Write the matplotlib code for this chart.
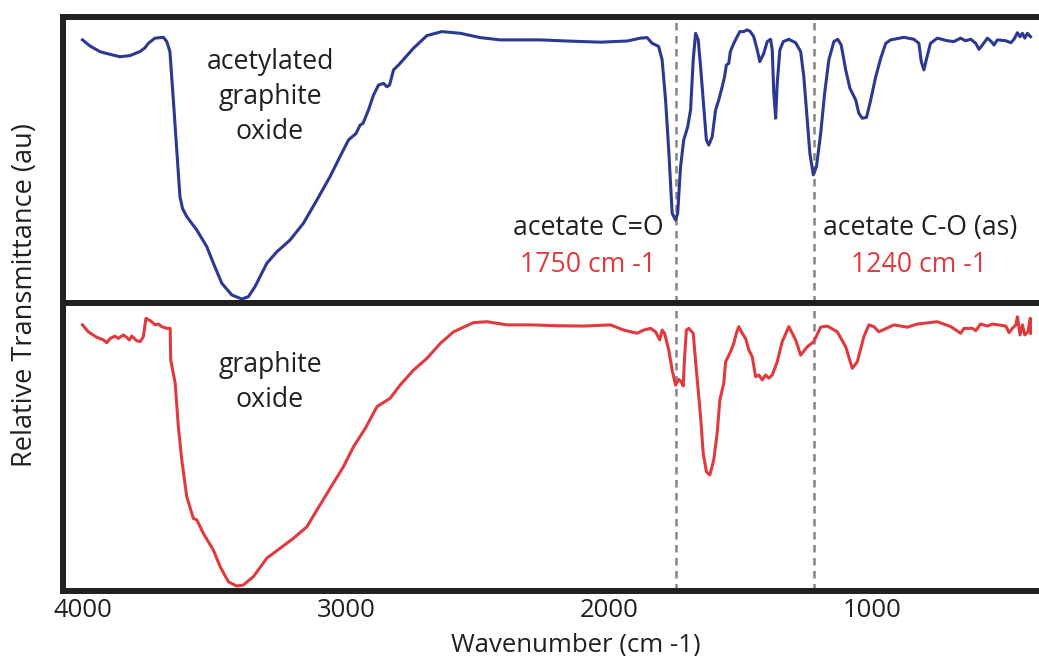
import matplotlib
matplotlib.use("Agg")
import matplotlib.pyplot as plt
import numpy as np

wn_acetylated = [4000, 3972, 3934, 3915, 3858, 3820, 3782, 3763, 3750, 3725, 3693, 3680,
                 3668, 3655, 3642, 3630, 3620, 3604, 3566, 3528, 3503, 3471, 3433, 3395,
                 3370, 3345, 3300, 3262, 3212, 3161, 3110, 3060, 3022, 2990, 2961, 2946,
                 2935, 2914, 2895, 2876, 2857, 2844, 2834, 2819, 2800, 2743, 2692, 2635,
                 2565, 2490, 2414, 2262, 2160, 2033, 1932, 1882, 1856, 1837, 1818, 1812,
                 1799, 1786, 1774, 1761, 1748, 1740, 1729, 1717, 1702, 1691, 1681, 1672,
                 1662, 1653, 1640, 1631, 1622, 1609, 1596, 1584, 1571, 1562, 1555, 1546,
                 1540, 1527, 1514, 1504, 1489, 1476, 1464, 1451, 1438, 1428, 1413, 1400,
                 1387, 1381, 1375, 1368, 1362, 1352, 1339, 1318, 1292, 1273, 1261, 1251,
                 1238, 1225, 1213, 1197, 1182, 1166, 1147, 1132, 1119, 1102, 1086, 1064,
                 1052, 1039, 1023, 1007, 988, 969, 950, 931, 881, 843, 824, 815,
                 805, 796, 780, 754, 716, 691, 666, 647, 627, 608, 596, 583,
                 564, 549, 539, 526, 494, 475, 463, 450, 440, 431, 422, 412,
                 400]
t_acetylated = [92.0, 89.9, 87.9, 87.4, 86.1, 86.5, 87.9, 89.2, 90.8, 92.6, 92.9, 91.4,
                87.9, 71.0, 53.5, 37.2, 33.0, 30.2, 25.5, 19.7, 13.9, 6.9, 2.8, 1.4,
                2.2, 5.7, 13.9, 17.9, 22.0, 27.9, 36.0, 44.2, 51.2, 57.0, 59.3, 62.2,
                62.8, 67.5, 72.7, 76.2, 76.8, 75.6, 76.2, 81.5, 83.2, 89.1, 93.5, 94.9,
                94.3, 92.8, 92.0, 92.0, 91.6, 91.2, 91.6, 92.6, 92.8, 90.8, 90.0, 89.6,
                85.0, 71.0, 53.5, 31.4, 29.0, 31.4, 47.7, 57.0, 61.6, 67.5, 85.0, 94.3,
                92.0, 82.6, 67.5, 57.0, 55.2, 58.1, 67.5, 71.0, 75.6, 79.1, 83.2, 83.8,
                87.9, 90.8, 93.1, 94.9, 94.9, 95.5, 94.9, 93.1, 88.5, 84.4, 87.3, 91.4,
                92.2, 88.5, 73.3, 64.6, 76.8, 88.5, 91.4, 92.2, 91.0, 87.9, 79.1, 67.5,
                52.3, 44.8, 47.7, 59.3, 73.3, 85.0, 91.4, 92.2, 90.2, 81.5, 75.1, 71.0,
                66.3, 64.6, 64.9, 71.0, 79.1, 85.6, 90.8, 92.0, 92.9, 92.2, 90.8, 84.4,
                81.5, 85.0, 90.8, 92.6, 91.7, 91.4, 92.6, 91.7, 92.2, 90.8, 88.7, 90.2,
                92.6, 91.4, 90.2, 92.0, 91.7, 91.0, 92.2, 94.5, 93.1, 94.3, 92.6, 94.3,
                93.1]

wn_go = [4000, 3978, 3946, 3921, 3908, 3895, 3876, 3864, 3845, 3832, 3822, 3813,
         3794, 3781, 3769, 3759, 3743, 3724, 3712, 3699, 3680, 3667, 3665, 3648,
         3636, 3623, 3604, 3579, 3566, 3541, 3503, 3477, 3446, 3414, 3389, 3351,
         3300, 3250, 3199, 3148, 3110, 3059, 3009, 2971, 2926, 2882, 2832, 2794,
         2743, 2692, 2641, 2591, 2515, 2464, 2388, 2293, 2198, 2097, 1995, 1945,
         1894, 1869, 1843, 1824, 1808, 1799, 1790, 1774, 1761, 1748, 1736, 1727,
         1719, 1714, 1707, 1698, 1681, 1669, 1653, 1643, 1631, 1618, 1603, 1590,
         1580, 1565, 1558, 1539, 1527, 1517, 1508, 1495, 1482, 1470, 1457, 1444,
         1432, 1419, 1406, 1394, 1381, 1362, 1343, 1318, 1292, 1273, 1248, 1223,
         1197, 1172, 1134, 1102, 1077, 1058, 1033, 1014, 995, 976, 919, 868,
         830, 754, 703, 665, 653, 621, 608, 590, 564, 545, 494, 482,
         469, 456, 450, 440, 431, 422, 410, 401, 400]
t_go = [92.4, 90.0, 88.1, 87.2, 86.2, 87.7, 88.5, 87.7, 88.9, 88.1, 87.2, 88.5,
        86.9, 86.6, 88.3, 94.7, 93.9, 92.4, 92.7, 91.8, 91.2, 91.2, 80.2, 72.1,
        57.0, 45.5, 32.7, 25.2, 24.7, 20.0, 14.2, 8.4, 3.2, 1.7, 2.1, 5.0,
        11.4, 14.8, 18.3, 22.3, 28.1, 35.7, 43.2, 50.1, 56.5, 64.0, 66.9, 71.5,
        76.7, 80.8, 86.0, 90.0, 93.2, 93.5, 92.4, 92.4, 92.1, 92.0, 92.4, 90.6,
        89.5, 90.6, 91.2, 90.0, 87.2, 90.6, 89.5, 83.7, 76.7, 71.5, 73.5, 72.7,
        71.2, 80.8, 90.6, 91.2, 89.5, 76.7, 60.5, 47.8, 41.4, 40.3, 45.5, 54.8,
        66.3, 72.1, 79.6, 83.1, 86.0, 89.5, 91.8, 89.5, 87.7, 83.7, 81.4, 74.4,
        75.0, 73.3, 75.0, 73.9, 75.0, 79.6, 86.6, 91.8, 87.2, 81.9, 84.8, 86.6,
        91.6, 92.0, 90.0, 84.8, 77.3, 79.6, 88.3, 92.4, 91.8, 90.0, 92.4, 91.6,
        92.7, 93.5, 91.8, 89.5, 91.2, 91.2, 90.4, 92.7, 92.0, 92.7, 92.0, 89.7,
        91.2, 92.4, 95.2, 88.9, 92.4, 88.9, 90.0, 94.7, 89.5]

peak_lines = [1748, 1222]
ticks = [4000, 3000, 2000, 1000]

BLUE = '#2b3990'
RED = '#e03a3e'
INK = '#231f20'

plt.rcParams['font.family'] = 'Open Sans'

fig = plt.figure(figsize=(10.39, 6.56), dpi=100)
W, H = 1039, 656
left = 63 / W
width = (W - 63) / W
ax1 = fig.add_axes([left, 1 - 303 / H, width, (303 - 17) / H])
ax2 = fig.add_axes([left, 1 - 591 / H, width, (591 - 303) / H])

for ax in (ax1, ax2):
    ax.set_xlim(4074, 368)
    ax.set_ylim(0, 100)
    ax.set_yticks([])
    for s in ('left', 'top', 'bottom'):
        ax.spines[s].set_linewidth(4.3)
        ax.spines[s].set_color(INK)
        ax.spines[s].set_zorder(5)
    ax.spines['right'].set_visible(False)
    for p in peak_lines:
        ax.axvline(p, color='#858585', lw=1.8, ls=(0, (3, 2.2)), zorder=1)

ax1.set_xticks([])
ax2.set_xticks(ticks)
ax2.set_xticklabels([str(t) for t in ticks], fontsize=18.5, color=INK)
ax2.tick_params(axis='x', length=0, pad=5)

# === Espectros ===
ax1.plot(wn_acetylated, t_acetylated, color=BLUE, lw=2.2, zorder=3)
ax2.plot(wn_go, t_go, color=RED, lw=2.2, zorder=3)

# === Etiquetas ===
fs = 19.2
ax1.text(3288, 72, "acetylated\ngraphite\noxide", ha='center', va='center',
         fontsize=fs, color=INK, linespacing=1.32)
ax2.text(3288, 72.4, "graphite\noxide", ha='center', va='center',
         fontsize=fs, color=INK, linespacing=1.32)
ax1.text(2079, 26.2, "acetate C=O", ha='center', va='center', fontsize=fs, color=INK)
ax1.text(2082, 13.3, "1750 cm -1", ha='center', va='center', fontsize=fs, color=RED)
ax1.text(821, 26.2, "acetate C-O (as)", ha='center', va='center', fontsize=fs, color=INK)
ax1.text(825, 13.3, "1240 cm -1", ha='center', va='center', fontsize=fs, color=RED)

fig.text(576 / W, 1 - 645 / H, "Wavenumber (cm -1)", ha='center', va='center',
         fontsize=18.5, color=INK)
fig.text(25 / W, 1 - 295 / H, "Relative Transmittance (au)", ha='center', va='center',
         rotation=90, fontsize=19.5, color=INK)

fig.savefig('out.png', dpi=100)
